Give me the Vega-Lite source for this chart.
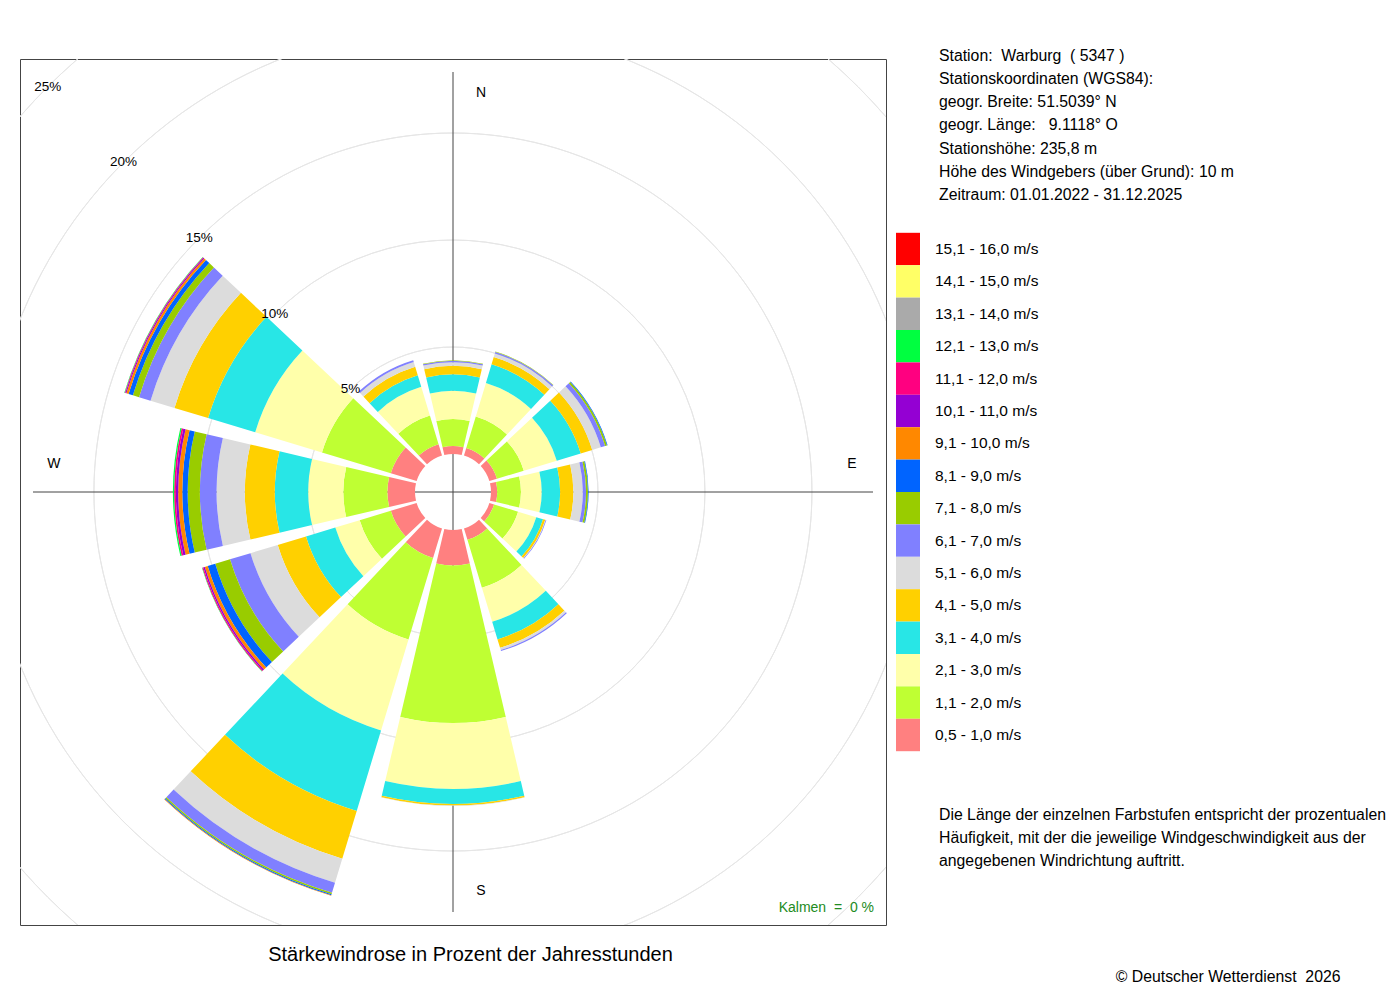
{
  "$schema": "https://vega.github.io/schema/vega-lite/v6.json",
  "width": 866,
  "height": 866,
  "autosize": {"type": "none"},
  "padding": {"left": 20, "top": 59, "right": 514, "bottom": 75},
  "background": "white",
  "config": {
    "view": {"stroke": "#444444", "strokeWidth": 1},
    "font": "Liberation Sans"
  },
  "title": {
    "text": [
      "Station:\u00a0 Warburg\u00a0 ( 5347 )",
      "Stationskoordinaten (WGS84):",
      "geogr. Breite: 51.5039° N",
      "geogr. Länge:\u00a0\u00a0 9.1118° O",
      "Stationshöhe: 235,8 m",
      "Höhe des Windgebers (über Grund): 10 m",
      "Zeitraum: 01.01.2022 - 31.12.2025"
    ],
    "subtitle": [
      "Die Länge der einzelnen Farbstufen entspricht der prozentualen",
      "Häufigkeit, mit der die jeweilige Windgeschwindigkeit aus der",
      "angegebenen Windrichtung auftritt."
    ],
    "orient": "top",
    "anchor": "start",
    "frame": "group",
    "baseline": "top",
    "offset": 0,
    "dx": 919,
    "dy": 811,
    "font": "Liberation Sans",
    "fontSize": 15.8,
    "fontWeight": "normal",
    "lineHeight": 23.2,
    "color": "#000000",
    "subtitleFont": "Liberation Sans",
    "subtitleFontSize": 15.8,
    "subtitleLineHeight": 23.2,
    "subtitleColor": "#000000",
    "subtitlePadding": 604
  },
  "datasets": {
    "classes": [
      {"k": 1, "cls": "0,5 - 1,0 m/s"},
      {"k": 2, "cls": "1,1 - 2,0 m/s"},
      {"k": 3, "cls": "2,1 - 3,0 m/s"},
      {"k": 4, "cls": "3,1 - 4,0 m/s"},
      {"k": 5, "cls": "4,1 - 5,0 m/s"},
      {"k": 6, "cls": "5,1 - 6,0 m/s"},
      {"k": 7, "cls": "6,1 - 7,0 m/s"},
      {"k": 8, "cls": "7,1 - 8,0 m/s"},
      {"k": 9, "cls": "8,1 - 9,0 m/s"},
      {"k": 10, "cls": "9,1 - 10,0 m/s"},
      {"k": 11, "cls": "10,1 - 11,0 m/s"},
      {"k": 12, "cls": "11,1 - 12,0 m/s"},
      {"k": 13, "cls": "12,1 - 13,0 m/s"},
      {"k": 14, "cls": "13,1 - 14,0 m/s"},
      {"k": 15, "cls": "14,1 - 15,0 m/s"},
      {"k": 16, "cls": "15,1 - 16,0 m/s"}
    ],
    "wind": [
      {"d": 0, "k": 1, "p": 0.37}, {"d": 0, "k": 2, "p": 1.26}, {"d": 0, "k": 3, "p": 1.32}, {"d": 0, "k": 4, "p": 0.77},
      {"d": 0, "k": 5, "p": 0.40}, {"d": 0, "k": 6, "p": 0.17}, {"d": 0, "k": 7, "p": 0.07}, {"d": 0, "k": 8, "p": 0.02},
      {"d": 30, "k": 1, "p": 0.37}, {"d": 30, "k": 2, "p": 1.54}, {"d": 30, "k": 3, "p": 1.64}, {"d": 30, "k": 4, "p": 0.91},
      {"d": 30, "k": 5, "p": 0.35}, {"d": 30, "k": 6, "p": 0.18}, {"d": 30, "k": 7, "p": 0.07}, {"d": 30, "k": 8, "p": 0.02},
      {"d": 60, "k": 1, "p": 0.37}, {"d": 60, "k": 2, "p": 1.31}, {"d": 60, "k": 3, "p": 1.61}, {"d": 60, "k": 4, "p": 1.17},
      {"d": 60, "k": 5, "p": 0.56}, {"d": 60, "k": 6, "p": 0.42}, {"d": 60, "k": 7, "p": 0.21}, {"d": 60, "k": 8, "p": 0.09},
      {"d": 60, "k": 9, "p": 0.03},
      {"d": 90, "k": 1, "p": 0.29}, {"d": 90, "k": 2, "p": 1.11}, {"d": 90, "k": 3, "p": 0.97}, {"d": 90, "k": 4, "p": 0.86},
      {"d": 90, "k": 5, "p": 0.62}, {"d": 90, "k": 6, "p": 0.44}, {"d": 90, "k": 7, "p": 0.15}, {"d": 90, "k": 8, "p": 0.09},
      {"d": 90, "k": 9, "p": 0.03},
      {"d": 120, "k": 1, "p": 0.23}, {"d": 120, "k": 2, "p": 1.17}, {"d": 120, "k": 3, "p": 0.89}, {"d": 120, "k": 4, "p": 0.33},
      {"d": 120, "k": 5, "p": 0.11}, {"d": 120, "k": 6, "p": 0.02}, {"d": 120, "k": 7, "p": 0.03},
      {"d": 150, "k": 1, "p": 0.56}, {"d": 150, "k": 2, "p": 2.34}, {"d": 150, "k": 3, "p": 1.66}, {"d": 150, "k": 4, "p": 0.86},
      {"d": 150, "k": 5, "p": 0.41}, {"d": 150, "k": 6, "p": 0.11}, {"d": 150, "k": 7, "p": 0.05},
      {"d": 180, "k": 1, "p": 1.66}, {"d": 180, "k": 2, "p": 7.36}, {"d": 180, "k": 3, "p": 3.08}, {"d": 180, "k": 4, "p": 0.70},
      {"d": 180, "k": 5, "p": 0.07}, {"d": 180, "k": 6, "p": 0.02},
      {"d": 210, "k": 1, "p": 1.45}, {"d": 210, "k": 2, "p": 3.97}, {"d": 210, "k": 3, "p": 4.44}, {"d": 210, "k": 4, "p": 3.93},
      {"d": 210, "k": 5, "p": 2.34}, {"d": 210, "k": 6, "p": 1.17}, {"d": 210, "k": 7, "p": 0.49}, {"d": 210, "k": 8, "p": 0.07},
      {"d": 210, "k": 9, "p": 0.05}, {"d": 210, "k": 10, "p": 0.02},
      {"d": 240, "k": 1, "p": 1.26}, {"d": 240, "k": 2, "p": 1.52}, {"d": 240, "k": 3, "p": 1.19}, {"d": 240, "k": 4, "p": 1.43},
      {"d": 240, "k": 5, "p": 1.38}, {"d": 240, "k": 6, "p": 1.33}, {"d": 240, "k": 7, "p": 1.00}, {"d": 240, "k": 8, "p": 0.72},
      {"d": 240, "k": 9, "p": 0.37}, {"d": 240, "k": 10, "p": 0.14}, {"d": 240, "k": 11, "p": 0.07}, {"d": 240, "k": 12, "p": 0.05},
      {"d": 240, "k": 13, "p": 0.02},
      {"d": 270, "k": 1, "p": 1.29}, {"d": 270, "k": 2, "p": 2.06}, {"d": 270, "k": 3, "p": 1.64}, {"d": 270, "k": 4, "p": 1.56},
      {"d": 270, "k": 5, "p": 1.40}, {"d": 270, "k": 6, "p": 1.32}, {"d": 270, "k": 7, "p": 0.78}, {"d": 270, "k": 8, "p": 0.57},
      {"d": 270, "k": 9, "p": 0.25}, {"d": 270, "k": 10, "p": 0.19}, {"d": 270, "k": 11, "p": 0.11}, {"d": 270, "k": 12, "p": 0.08},
      {"d": 270, "k": 13, "p": 0.06},
      {"d": 300, "k": 1, "p": 1.26}, {"d": 300, "k": 2, "p": 3.36}, {"d": 300, "k": 3, "p": 3.26}, {"d": 300, "k": 4, "p": 2.30},
      {"d": 300, "k": 5, "p": 1.64}, {"d": 300, "k": 6, "p": 1.17}, {"d": 300, "k": 7, "p": 0.56}, {"d": 300, "k": 8, "p": 0.30},
      {"d": 300, "k": 9, "p": 0.21}, {"d": 300, "k": 10, "p": 0.11}, {"d": 300, "k": 11, "p": 0.05}, {"d": 300, "k": 12, "p": 0.03},
      {"d": 300, "k": 13, "p": 0.02},
      {"d": 330, "k": 1, "p": 0.56}, {"d": 330, "k": 2, "p": 1.40}, {"d": 330, "k": 3, "p": 1.40}, {"d": 330, "k": 4, "p": 0.56},
      {"d": 330, "k": 5, "p": 0.42}, {"d": 330, "k": 6, "p": 0.23}, {"d": 330, "k": 7, "p": 0.09}
    ],
    "rings": [
      {"p": 5, "label": "5%"},
      {"p": 10, "label": "10%"},
      {"p": 15, "label": "15%"},
      {"p": 20, "label": "20%"},
      {"p": 25, "label": "25%"}
    ],
    "cross": [
      {"x": -420, "x2": 420, "y": 0, "y2": 0},
      {"x": 0, "x2": 0, "y": -420, "y2": 420}
    ]
  },
  "layer": [
    {
      "data": {"name": "rings"},
      "mark": {"type": "arc", "theta": 0, "theta2": 6.2828, "filled": false, "fill": null, "stroke": "#E6E6E6", "strokeWidth": 1, "clip": true},
      "encoding": {
        "radius": {"field": "p", "type": "quantitative", "scale": {"type": "linear", "domain": [0, 25], "range": [38, 573], "zero": false, "nice": false}},
        "radius2": {"field": "p"}
      }
    },
    {
      "data": {"name": "cross"},
      "mark": {"type": "rule", "color": "#444444", "strokeWidth": 1},
      "encoding": {
        "x": {
          "field": "x", "type": "quantitative",
          "scale": {"domain": [-433, 433], "nice": false, "zero": false},
          "axis": {
            "title": "Stärkewindrose in Prozent der Jahresstunden",
            "labels": false, "ticks": false, "domain": false, "grid": false,
            "titleFont": "Liberation Sans", "titleFontSize": 20, "titleFontWeight": "normal", "titleColor": "#000000",
            "titleX": 450, "titleY": 29, "titleAlign": "center", "titleBaseline": "middle"
          }
        },
        "x2": {"field": "x2"},
        "y": {
          "field": "y", "type": "quantitative",
          "scale": {"domain": [-433, 433], "nice": false, "zero": false},
          "axis": {
            "orient": "right",
            "title": "© Deutscher Wetterdienst\u00a0 2026",
            "labels": false, "ticks": false, "domain": false, "grid": false,
            "titleAngle": 0, "titleFont": "Liberation Sans", "titleFontSize": 15.8, "titleFontWeight": "normal", "titleColor": "#000000",
            "titleX": 454, "titleY": 917, "titleAlign": "right", "titleBaseline": "middle"
          }
        },
        "y2": {"field": "y2"}
      }
    },
    {
      "data": {"name": "wind"},
      "transform": [
        {"lookup": "k", "from": {"data": {"name": "classes"}, "key": "k", "fields": ["cls"]}},
        {"stack": "p", "groupby": ["d"], "sort": [{"field": "k", "order": "ascending"}], "as": ["r0", "r1"]},
        {"calculate": "datum.d - 13.2", "as": "a0"},
        {"calculate": "datum.d + 13.2", "as": "a1"}
      ],
      "mark": {"type": "arc", "strokeWidth": 0},
      "encoding": {
        "theta": {"field": "a0", "type": "quantitative", "stack": null, "scale": {"type": "linear", "domain": [0, 360], "range": [0, 6.283185307], "zero": false, "nice": false}},
        "theta2": {"field": "a1"},
        "radius": {"field": "r1", "type": "quantitative"},
        "radius2": {"field": "r0"},
        "color": {
          "field": "cls", "type": "nominal",
          "scale": {
            "domain": [
              "15,1 - 16,0 m/s", "14,1 - 15,0 m/s", "13,1 - 14,0 m/s", "12,1 - 13,0 m/s",
              "11,1 - 12,0 m/s", "10,1 - 11,0 m/s", "9,1 - 10,0 m/s", "8,1 - 9,0 m/s",
              "7,1 - 8,0 m/s", "6,1 - 7,0 m/s", "5,1 - 6,0 m/s", "4,1 - 5,0 m/s",
              "3,1 - 4,0 m/s", "2,1 - 3,0 m/s", "1,1 - 2,0 m/s", "0,5 - 1,0 m/s"
            ],
            "range": [
              "#FF0000", "#FFFF66", "#AAAAAA", "#00FF40",
              "#FF0080", "#9400D3", "#FF8800", "#0064FF",
              "#99CC00", "#8080FF", "#DCDCDC", "#FFD000",
              "#28E6E6", "#FFFFAA", "#BFFF33", "#FF8080"
            ]
          },
          "legend": {
            "orient": "none", "legendX": 876, "legendY": 178, "title": null, "padding": 0,
            "symbolType": "M-1,-1.35H1V1.35H-1Z", "symbolSize": 576, "symbolStrokeWidth": 0, "symbolOpacity": 1,
            "rowPadding": -1.6, "labelOffset": 15, "labelFont": "Liberation Sans", "labelFontSize": 15.5,
            "labelColor": "#000000", "labelLimit": 300
          }
        }
      }
    },
    {
      "data": {"name": "rings"},
      "mark": {"type": "text", "fontSize": 13.5, "align": "center", "baseline": "middle", "color": "#000000"},
      "encoding": {
        "theta": {"datum": 315},
        "radius": {"field": "p", "type": "quantitative"},
        "text": {"field": "label"}
      }
    },
    {
      "data": {"values": [{"t": "N", "d": 0}, {"t": "S", "d": 180}]},
      "mark": {"type": "text", "dx": 28, "fontSize": 14, "align": "center", "baseline": "middle", "color": "#000000"},
      "encoding": {
        "theta": {"field": "d", "type": "quantitative"},
        "radius": {"datum": 16.87},
        "text": {"field": "t"}
      }
    },
    {
      "data": {"values": [{"t": "E", "d": 90}, {"t": "W", "d": 270}]},
      "mark": {"type": "text", "dy": -28, "fontSize": 14, "align": "center", "baseline": "middle", "color": "#000000"},
      "encoding": {
        "theta": {"field": "d", "type": "quantitative"},
        "radius": {"datum": 16.87},
        "text": {"field": "t"}
      }
    },
    {
      "data": {"values": [{"label": "Kalmen\u00a0 =\u00a0 0 %"}]},
      "mark": {"type": "text", "align": "right", "baseline": "middle", "fontSize": 14, "color": "#228B22"},
      "encoding": {
        "x": {"datum": 421},
        "y": {"datum": -416},
        "text": {"field": "label"}
      }
    }
  ]
}
